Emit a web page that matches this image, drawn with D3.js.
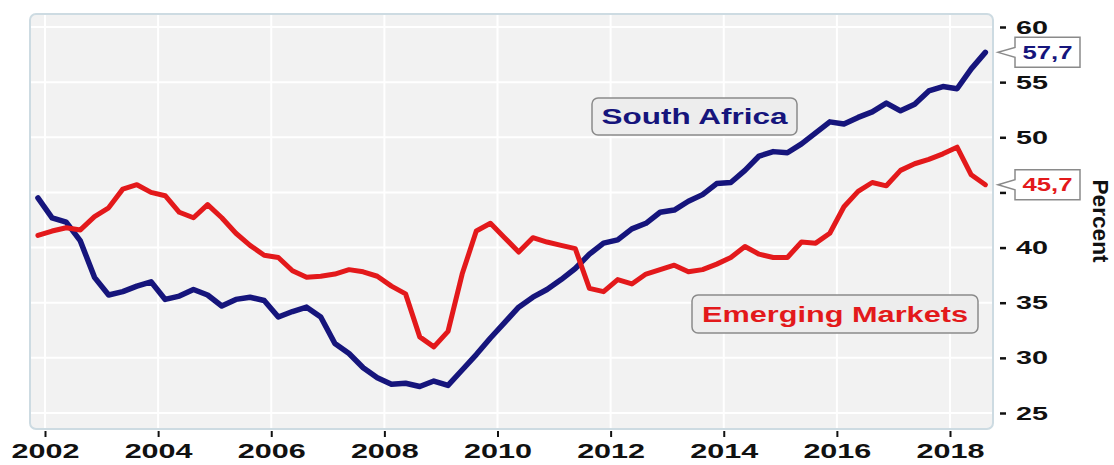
<!DOCTYPE html>
<html>
<head>
<meta charset="utf-8">
<script src="https://cdn.jsdelivr.net/npm/d3@7"></script>
<style>
  html, body { margin: 0; padding: 0; background: #ffffff; }
  svg { display: block; font-family: "Liberation Sans", Arial, sans-serif; }
</style>
</head>
<body>
<svg id="chart" width="1114" height="465"></svg>
<script>
// Quarterly observations, 2001Q4 .. 2018Q3
const quarters = [
  "2001Q4",
  "2002Q1","2002Q2","2002Q3","2002Q4","2003Q1","2003Q2","2003Q3","2003Q4",
  "2004Q1","2004Q2","2004Q3","2004Q4","2005Q1","2005Q2","2005Q3","2005Q4",
  "2006Q1","2006Q2","2006Q3","2006Q4","2007Q1","2007Q2","2007Q3","2007Q4",
  "2008Q1","2008Q2","2008Q3","2008Q4","2009Q1","2009Q2","2009Q3","2009Q4",
  "2010Q1","2010Q2","2010Q3","2010Q4","2011Q1","2011Q2","2011Q3","2011Q4",
  "2012Q1","2012Q2","2012Q3","2012Q4","2013Q1","2013Q2","2013Q3","2013Q4",
  "2014Q1","2014Q2","2014Q3","2014Q4","2015Q1","2015Q2","2015Q3","2015Q4",
  "2016Q1","2016Q2","2016Q3","2016Q4","2017Q1","2017Q2","2017Q3","2017Q4",
  "2018Q1","2018Q2","2018Q3"
];

// Government debt, percent of GDP
const southAfrica = [
  44.5,42.7,42.3,40.6,37.3,35.7,36.0,36.5,36.9,35.3,
  35.6,36.2,35.7,34.7,35.3,35.5,35.2,33.7,34.2,34.6,
  33.7,31.3,30.4,29.1,28.2,27.6,27.7,27.4,27.9,27.5,
  28.9,30.3,31.8,33.2,34.6,35.5,36.2,37.1,38.1,39.4,
  40.4,40.7,41.7,42.2,43.2,43.4,44.2,44.8,45.8,45.9,
  47.0,48.3,48.7,48.6,49.4,50.4,51.4,51.2,51.8,52.3,
  53.1,52.4,53.0,54.2,54.6,54.4,56.2,57.7
];
const emergingMarkets = [
  41.1,41.5,41.8,41.6,42.8,43.6,45.3,45.7,45.0,44.7,
  43.2,42.7,43.9,42.7,41.3,40.2,39.3,39.1,37.9,37.3,
  37.4,37.6,38.0,37.8,37.4,36.5,35.8,31.9,31.0,32.4,
  37.6,41.5,42.2,40.9,39.6,40.9,40.5,40.2,39.9,36.3,
  36.0,37.1,36.7,37.6,38.0,38.4,37.8,38.0,38.5,39.1,
  40.1,39.4,39.1,39.1,40.5,40.4,41.3,43.7,45.1,45.9,
  45.6,47.0,47.6,48.0,48.5,49.1,46.6,45.7
];

const yearTicks = [2002, 2004, 2006, 2008, 2010, 2012, 2014, 2016, 2018];
const valueTicks = [25, 30, 35, 40, 45, 50, 55, 60];
// The 45 label sits under the last-value callout, so only its tick mark shows
const valueTickLabels = ["25", "30", "35", "40", "", "50", "55", "60"];
const seriesNames = ["South Africa", "Emerging Markets"];
const axisTitle = "Percent";

// Mid-quarter decimal year for each observation
const toYear = q => +q.slice(0, 4) + (+q.slice(5) - 1) * 0.25 + 0.125;
const times = quarters.map(toYear);

const svg = d3.select("#chart");
const frame = { left: 30, top: 14, right: 993, bottom: 429 };

const x = d3.scaleLinear().domain([2002, 2018]).range([45, 950]);
const y = d3.scaleLinear().domain([25, 60]).range([413, 27]);

const navy = "#16157c";
const red = "#e3191b";
const fmt = d3.formatLocale({ decimal: ",", thousands: ".", grouping: [3], currency: ["", ""] }).format(".1f");

// Plot panel
svg.append("rect")
  .attr("x", frame.left).attr("y", frame.top)
  .attr("width", frame.right - frame.left).attr("height", frame.bottom - frame.top)
  .attr("rx", 6).attr("ry", 6)
  .attr("fill", "#f2f2f2")
  .attr("stroke", "#cddbe2").attr("stroke-width", 2);

// Grid
const grid = svg.append("g").attr("stroke", "#ffffff").attr("stroke-width", 2);
grid.selectAll("line.v").data(yearTicks).join("line")
  .attr("class", "v")
  .attr("x1", d => x(d)).attr("x2", d => x(d))
  .attr("y1", frame.top + 1).attr("y2", frame.bottom - 1);
grid.selectAll("line.h").data(valueTicks).join("line")
  .attr("class", "h")
  .attr("x1", frame.left + 1).attr("x2", frame.right - 1)
  .attr("y1", d => y(d)).attr("y2", d => y(d));

// Bottom axis
const xAxis = d3.axisBottom(x).tickValues(yearTicks).tickFormat(d3.format("d"))
  .tickSize(6).tickPadding(8);
const gx = svg.append("g").attr("transform", `translate(0,${frame.bottom + 2})`).call(xAxis);
gx.select(".domain").remove();
gx.selectAll(".tick line").attr("stroke", "#111").attr("stroke-width", 2);
gx.selectAll(".tick text")
  .attr("fill", "#111").attr("font-size", 21).attr("font-weight", "bold")
  .attr("dy", "0.62em")
  .attr("textLength", 68).attr("lengthAdjust", "spacingAndGlyphs");

// Right axis
const yAxis = d3.axisRight(y).tickValues(valueTicks)
  .tickFormat((d, i) => valueTickLabels[i])
  .tickSize(6).tickPadding(10);
const gy = svg.append("g").attr("transform", `translate(${frame.right + 7},0)`).call(yAxis);
gy.select(".domain").remove();
gy.selectAll(".tick line").attr("stroke", "#111").attr("stroke-width", 2.5);
gy.selectAll(".tick text")
  .filter((d, i) => valueTickLabels[i] !== "")
  .attr("fill", "#111").attr("font-size", 19).attr("font-weight", "bold")
  .attr("textLength", 32).attr("lengthAdjust", "spacingAndGlyphs");
gy.selectAll(".tick text").filter((d, i) => valueTickLabels[i] === "").remove();

// Axis title
svg.append("text")
  .attr("transform", `translate(1093,221) rotate(90)`)
  .attr("text-anchor", "middle")
  .attr("font-size", 22).attr("font-weight", "bold").attr("fill", "#111")
  .attr("textLength", 83).attr("lengthAdjust", "spacingAndGlyphs")
  .text(axisTitle);

// Series lines
const line = d3.line()
  .x((d, i) => x(times[i]))
  .y(d => y(d));

svg.append("path").datum(southAfrica)
  .attr("d", line).attr("fill", "none")
  .attr("stroke", navy).attr("stroke-width", 5.5)
  .attr("stroke-linejoin", "round").attr("stroke-linecap", "round");
svg.append("path").datum(emergingMarkets)
  .attr("d", line).attr("fill", "none")
  .attr("stroke", red).attr("stroke-width", 5)
  .attr("stroke-linejoin", "round").attr("stroke-linecap", "round");

// Series name labels
function nameLabel(text, color, cx, cy, w, h, tw) {
  svg.append("rect")
    .attr("x", cx - w / 2).attr("y", cy - h / 2)
    .attr("width", w).attr("height", h)
    .attr("rx", 6).attr("ry", 6)
    .attr("fill", "#ededed").attr("stroke", "#8a8a8a").attr("stroke-width", 1.5);
  svg.append("text")
    .attr("x", cx).attr("y", cy)
    .attr("dy", "0.36em")
    .attr("text-anchor", "middle")
    .attr("font-size", 22).attr("font-weight", "bold").attr("fill", color)
    .attr("textLength", tw).attr("lengthAdjust", "spacingAndGlyphs")
    .text(text);
}
nameLabel(seriesNames[0], navy, 694.5, 116.5, 205, 37, 186);
nameLabel(seriesNames[1], red, 835, 314, 286, 38, 266);

// Last-value callouts on the right axis
function valueCallout(value, color) {
  const ty = y(value);
  const bx = 1015, bw = 65, bh = 30;
  const top = ty - bh / 2, bot = ty + bh / 2;
  const p = d3.path();
  p.moveTo(bx, top);
  p.lineTo(bx + bw, top);
  p.lineTo(bx + bw, bot);
  p.lineTo(bx, bot);
  p.lineTo(bx, ty + 5);
  p.lineTo(bx - 17, ty);
  p.lineTo(bx, ty - 5);
  p.closePath();
  svg.append("path").attr("d", p.toString())
    .attr("fill", "#ffffff").attr("stroke", "#8a8a8a").attr("stroke-width", 1.5);
  svg.append("text")
    .attr("x", bx + bw / 2).attr("y", ty)
    .attr("dy", "0.36em").attr("text-anchor", "middle")
    .attr("font-size", 18).attr("font-weight", "bold").attr("fill", color)
    .attr("textLength", 50).attr("lengthAdjust", "spacingAndGlyphs")
    .text(fmt(value));
}
valueCallout(southAfrica[southAfrica.length - 1], navy);
valueCallout(emergingMarkets[emergingMarkets.length - 1], red);
</script>
</body>
</html>
